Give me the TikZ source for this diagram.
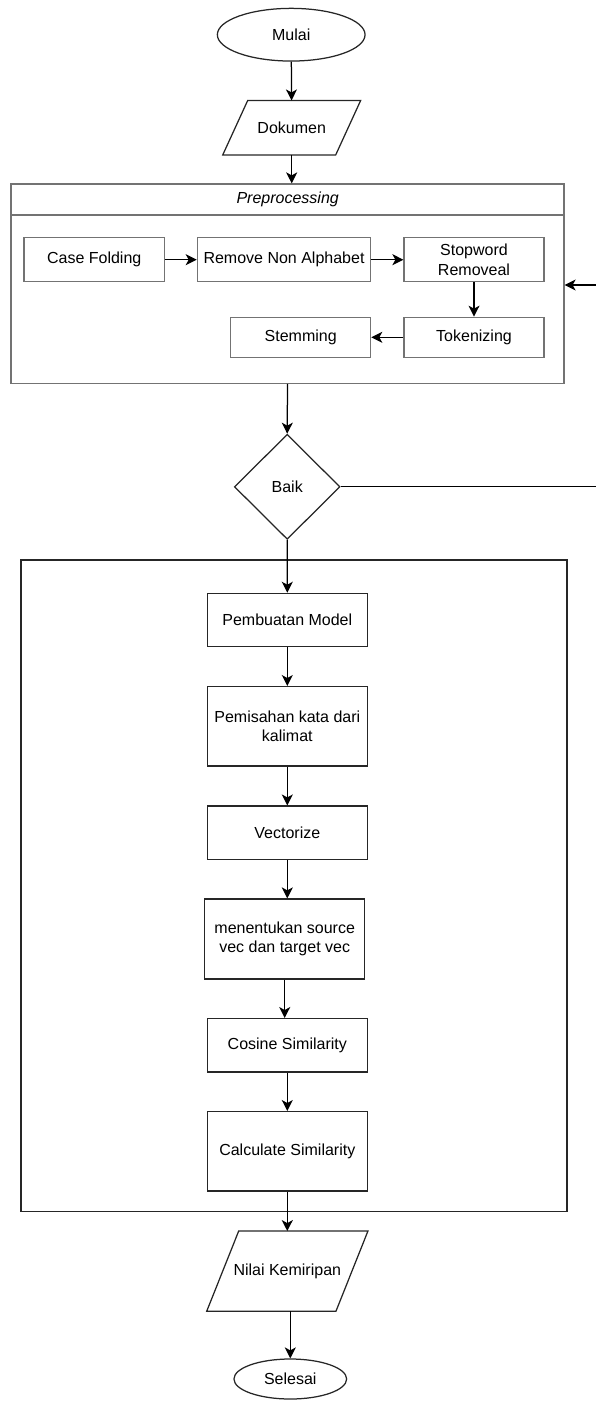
\documentclass[tikz,border=0pt]{standalone}
\usepackage{fontspec}
\setmainfont{Liberation Sans}
\usetikzlibrary{shapes.geometric,arrows.meta}

\tikzset{
	kasten/.style={rectangle, draw=black!85, line width=1.25pt, minimum width=160pt,
		inner sep=0pt, align=center, font=\fontsize{16}{19.5}\selectfont},
	vorkasten/.style={kasten, draw=black!55},
	linie/.style={draw=black!85, line width=1.25pt},
	pfeil/.style={draw=black, line width=1.25pt,
		-{Stealth[length=11pt,width=11pt,inset=3pt]}},
}

\begin{document}
\begin{tikzpicture}[x=1pt, y=-1pt]
	\useasboundingbox (0,0) rectangle (596,1401);
	% Start und Eingabe
	\node[kasten, ellipse, minimum width=147.7pt, minimum height=52.7pt] (mulai) at (291.2, 34.7) {Mulai};
	\node[kasten, draw=none, minimum width=111.7pt, minimum height=53.3pt] (dokumen) at (291.7, 127.7) {Dokumen};
	\draw[linie] ([xshift=-12.5pt]dokumen.south west) -- ([xshift=12.5pt]dokumen.north west)
		-- ([xshift=12.5pt]dokumen.north east) -- ([xshift=-12.5pt]dokumen.south east) -- cycle;

	% Preprocessing
	\node[vorkasten, minimum width=553pt, minimum height=199.3pt] (vorverarbeitung) at (287.5, 283.65) {};
	\draw[linie, draw=black!55] (vorverarbeitung.west |- 0,215) -- (vorverarbeitung.east |- 0,215);
	\node[font=\fontsize{16}{19.5}\selectfont\itshape] (titel) at (287.7, 199.5) {Preprocessing};
	\node[vorkasten, minimum width=140.3pt, minimum height=44pt] (casefolding) at (94.2, 259.7) {Case Folding};
	\node[vorkasten, minimum width=173.4pt, minimum height=44pt] (nonalpha) at (284, 259.7) {Remove Non Alphabet};
	\node[vorkasten, minimum width=140pt, minimum height=44pt] (stopword) at (474, 259.7) {Stopword\\Removeal};
	\node[vorkasten, minimum width=140pt, minimum height=40pt] (tokenizing) at (474, 337.3) {Tokenizing};
	\node[vorkasten, minimum width=140pt, minimum height=40pt] (stemming) at (300.7, 337.3) {Stemming};
	\draw[pfeil] (casefolding) -- (nonalpha);
	\draw[pfeil] (nonalpha) -- (stopword);
	\draw[pfeil] (stopword) -- (tokenizing);
	\draw[pfeil] (tokenizing) -- (stemming);

	% Entscheidung
	\node[kasten, diamond, minimum width=105.7pt, minimum height=105pt] (baik) at (287.2, 486.8) {Baik};

	% Modell
	\node[kasten, minimum width=546pt, minimum height=651.5pt] (modellrahmen) at (294, 885.75) {};
	\node[kasten, minimum height=53.3pt] (pembuatan) at (287.3, 620) {Pembuatan Model};
	\node[kasten, minimum height=79.3pt] (pemisahan) at (287.3, 726.3) {Pemisahan kata dari\\kalimat};
	\node[kasten, minimum height=53.3pt] (vectorize) at (287.3, 832.7) {Vectorize};
	\node[kasten, minimum height=80pt] (menentukan) at (284.7, 939) {menentukan source\\vec dan target vec};
	\node[kasten, minimum height=53.3pt] (cosine) at (287.3, 1045.3) {Cosine Similarity};
	\node[kasten, minimum height=79.3pt] (calculate) at (287.3, 1151.3) {Calculate Similarity};

	% Ausgabe und Ende
	\node[kasten, draw=none, minimum width=128pt, minimum height=79pt] (nilai) at (287.3, 1271.2) {Nilai Kemiripan};
	\draw[linie] ([xshift=-16pt]nilai.south west) -- ([xshift=16pt]nilai.north west)
		-- ([xshift=16pt]nilai.north east) -- ([xshift=-16pt]nilai.south east) -- cycle;
	\node[kasten, ellipse, minimum width=112.7pt, minimum height=40pt] (selesai) at (290.3, 1379) {Selesai};

	% Verbindungen
	\draw[pfeil] (mulai) -- (dokumen);
	\draw[pfeil] (dokumen.south) -- (dokumen.south |- vorverarbeitung.north);
	\draw[pfeil] (vorverarbeitung.south) -- (baik.north);
	\draw[pfeil] (baik.south) -- (pembuatan.north);
	\foreach \von/\nach in {pembuatan/pemisahan, pemisahan/vectorize, vectorize/menentukan,
		menentukan/cosine, cosine/calculate, calculate/nilai}
		\draw[pfeil] (\von.south) -- (\von.south |- \nach.north);
	\draw[pfeil] (nilai.south -| selesai.north) -- (selesai.north);

	% Rueckfuehrung
	\coordinate (rueckpunkt) at (600, 285);
	\draw[pfeil] (baik.east) -| (rueckpunkt) -- (vorverarbeitung.east |- rueckpunkt);
\end{tikzpicture}
\end{document}
